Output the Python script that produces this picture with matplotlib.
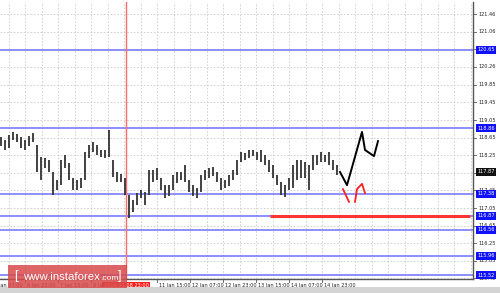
import matplotlib
matplotlib.use('Agg')
import matplotlib.pyplot as plt
import matplotlib.transforms as mtransforms
from matplotlib.patches import Rectangle

# 2-hour bars, high / low
highs = [118.66, 118.60, 118.71, 118.78, 118.73, 118.66, 118.60, 118.69, 118.76, 118.48,
         118.21, 118.19, 118.14, 117.87, 117.69, 118.14, 118.26, 118.07, 117.73, 117.69,
         117.73, 118.32, 118.48, 118.55, 118.48, 118.37, 118.37, 118.82, 118.14, 117.87,
         117.82, 117.73, 117.35, 117.23, 117.39, 117.46, 117.41, 117.91, 117.91, 117.96,
         117.73, 117.57, 117.57, 117.80, 117.87, 117.87, 118.03, 117.69, 117.57, 117.51,
         117.80, 117.91, 117.96, 117.98, 117.87, 117.73, 117.69, 117.80, 117.91, 118.14,
         118.32, 118.30, 118.37, 118.37, 118.32, 118.37, 118.26, 118.14, 118.03, 117.80,
         117.64, 117.57, 117.73, 118.03, 118.14, 118.14, 118.10, 118.03, 118.26, 118.26,
         118.32, 118.26, 118.32, 118.14, 118.03]
lows = [118.46, 118.37, 118.41, 118.60, 118.55, 118.41, 118.37, 118.46, 118.55, 117.87,
        117.69, 117.96, 117.87, 117.35, 117.46, 117.57, 117.96, 117.69, 117.46, 117.46,
        117.51, 117.69, 118.19, 118.32, 118.26, 118.21, 118.19, 118.21, 117.76, 117.64,
        117.64, 117.35, 116.82, 116.96, 117.12, 117.28, 117.12, 117.35, 117.64, 117.69,
        117.46, 117.28, 117.32, 117.46, 117.62, 117.69, 117.64, 117.41, 117.32, 117.28,
        117.41, 117.69, 117.73, 117.78, 117.64, 117.46, 117.51, 117.55, 117.69, 117.80,
        118.10, 118.14, 118.19, 118.23, 118.14, 118.10, 118.03, 117.87, 117.73, 117.57,
        117.35, 117.30, 117.46, 117.51, 117.69, 117.73, 117.73, 117.46, 117.91, 118.03,
        118.10, 118.10, 118.03, 117.91, 117.80]

# price grid / labels on the right scale
grid_prices = [121.46, 121.06, 120.66, 120.26, 119.85, 119.45, 119.05, 118.65,
               118.25, 117.85, 117.45, 117.05, 116.65, 116.25, 115.85, 115.45]
levels = [120.65, 118.86, 117.38, 116.87, 116.56, 115.96, 115.52]
support = 116.87
current = 117.87

# time axis
time_ticks = [-2.25, 6, 14.25, 22.5, 39, 47.25, 55.5, 63.75, 72, 80.25]
time_labels = ['6 Jan 07:00', '6 Jan 23:00', '7 Jan 15:00', '8 Jan 07:00', '11 Jan 15:00',
               '12 Jan 07:00', '12 Jan 23:00', '13 Jan 15:00', '14 Jan 07:00', '14 Jan 23:00']
marker_bar = 31.25
marker_label = '2016.01.08 23:00'

# forecast paths
fc_x = [84.75, 86.5, 90.25, 91.0, 93.25, 94.25]
fc_y = [117.87, 117.57, 118.78, 118.37, 118.23, 118.57]
alt1_x = [85.5, 87.0]
alt1_y = [117.48, 117.19]
alt2_x = [88.5, 89.0, 90.25, 91.0]
alt2_y = [117.19, 117.48, 117.60, 117.39]

FS = 3.6

fig = plt.figure(figsize=(5.0, 2.93), dpi=100)
fig.patch.set_facecolor('white')
ax = fig.add_axes([0, 14 / 293, 473 / 500, 277 / 293])
ax.set_xlim(-0.25, 118)
ax.set_ylim(115.437, 121.733)

for s in ['top', 'left']:
    ax.spines[s].set_visible(False)
ax.spines['right'].set_color('#555555')
ax.spines['bottom'].set_color('#555555')
ax.spines['right'].set_linewidth(1)
ax.spines['bottom'].set_linewidth(1)

# grid
for gp in grid_prices:
    ax.axhline(gp, color='#cccccc', lw=0.6, ls=(0, (2, 2)), zorder=0)
step = (time_ticks[2] - time_ticks[1]) / 2
g = time_ticks[0]
while g < 118:
    ax.axvline(g, color='#cccccc', lw=0.6, ls=(0, (2, 2)), zorder=0)
    g += step

# levels
for lv in levels:
    ax.axhline(lv, color='#7a7aff', lw=1.2, zorder=1)
ax.plot([67.25, 117.25], [support, support], color='#ff3535', lw=2.2, zorder=3,
        solid_capstyle='butt')
ax.axvline(marker_bar, color='#ff6a6a', lw=1, zorder=2)

# bars
xs = list(range(len(highs)))
ax.vlines(xs, lows, highs, color='#333333', lw=1.3, zorder=4)

# forecasts
ax.plot(fc_x, fc_y, color='black', lw=1.4, zorder=5)
ax.plot(alt1_x, alt1_y, color='#ff2020', lw=1.3, zorder=5)
ax.plot(alt2_x, alt2_y, color='#ff2020', lw=1.3, zorder=5)

# right price scale
ax.set_xticks([])
ax.set_yticks([])
tr = mtransforms.blended_transform_factory(ax.transAxes, ax.transData)
for gp in grid_prices:
    ax.plot([1.0, 1.006], [gp, gp], color='#555555', lw=0.6, transform=tr, clip_on=False)
    ax.text(1.012, gp, f'{gp:.2f}', transform=tr, fontsize=FS, va='center', ha='left',
            color='#222222', clip_on=False)
for lv in levels:
    ax.text(1.009, lv, f'{lv:.2f}', transform=tr, fontsize=FS, va='center', ha='left',
            color='white', clip_on=False, zorder=6,
            bbox=dict(boxstyle='square,pad=0.3', fc='#1010ff', ec='none'))
ax.text(1.009, current, f'{current:.2f}', transform=tr, fontsize=FS, va='center', ha='left',
        color='white', clip_on=False, zorder=6,
        bbox=dict(boxstyle='square,pad=0.3', fc='#111111', ec='none'))

# time labels
trx = mtransforms.blended_transform_factory(ax.transData, ax.transAxes)
for tk, lb in zip(time_ticks, time_labels):
    ax.plot([tk, tk], [0, -0.012], color='#555555', lw=0.6, transform=trx, clip_on=False)
    ax.text(tk + 0.5, -0.016, lb, transform=trx, fontsize=FS, va='top', ha='left',
            color='#222222', clip_on=False)
ax.text(marker_bar, -0.016, marker_label, transform=trx, fontsize=FS, va='top', ha='center',
        color='white', clip_on=False, zorder=6,
        bbox=dict(boxstyle='square,pad=0.25', fc='#ff1a1a', ec='none'))

# bottom border strip
fig.patches.append(Rectangle((0, 0), 1, 6 / 293, transform=fig.transFigure,
                             fc='#d4d4d4', ec='none', zorder=0))

# watermark
fig.patches.append(Rectangle((8 / 500, 5 / 293), 119 / 500, 23 / 293, transform=fig.transFigure,
                             fc='#d84a4a', ec='none', alpha=0.85, zorder=10))
fig.text(14 / 500, 16.5 / 293, '[', color='white', fontsize=9, va='center', ha='left',
         family='Liberation Sans', zorder=11)
t1 = fig.text(23 / 500, 16.5 / 293, 'www.instaforex', color='white', fontsize=8.2,
              va='center', ha='left', family='Liberation Sans', zorder=11)
renderer = fig.canvas.get_renderer()
bb = t1.get_window_extent(renderer)
fig.text(bb.x1 / 500, 15 / 293, '.com', color='white', fontsize=6.0, va='center', ha='left',
         family='Liberation Sans', zorder=11)
fig.text(118 / 500, 16.5 / 293, ']', color='white', fontsize=9, va='center', ha='left',
         family='Liberation Sans', zorder=11)

fig.savefig('out.png', dpi=100, facecolor='white')
